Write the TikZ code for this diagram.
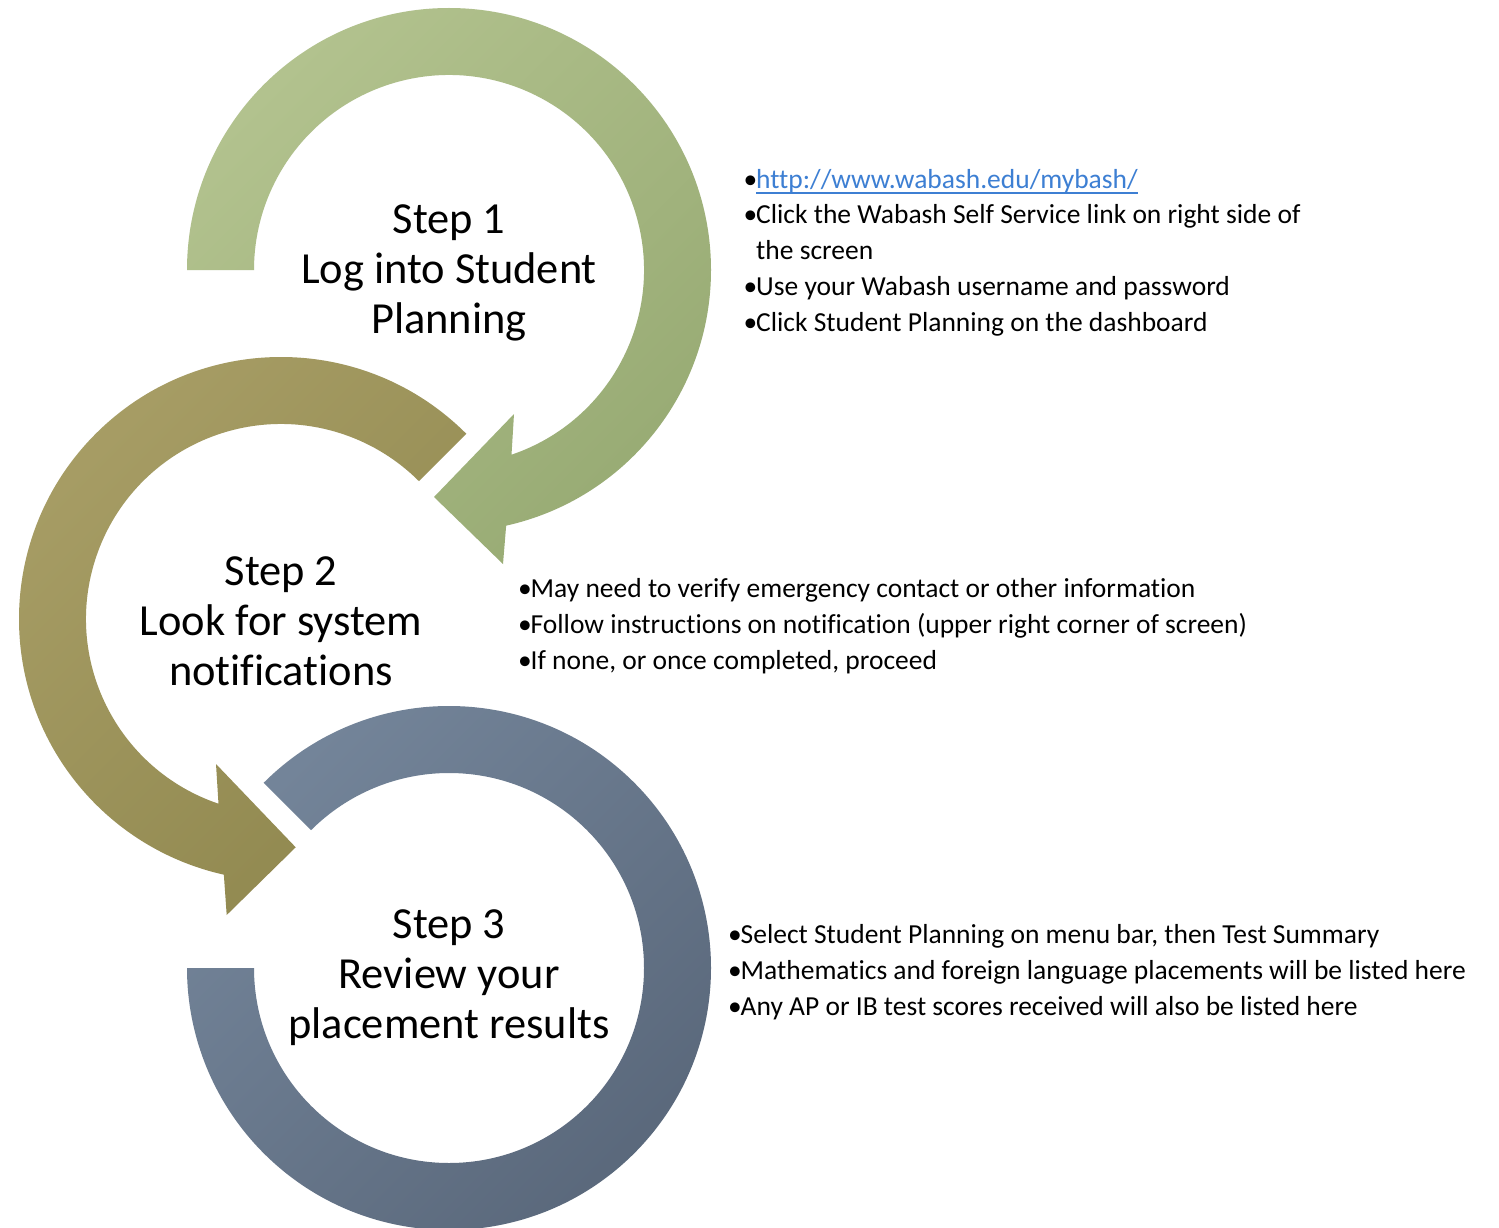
\documentclass[tikz,border=0pt]{standalone}
\usepackage{fontspec}
\setmainfont{Carlito}[Ligatures=NoCommon]
\definecolor{greenlight}{HTML}{B2C28E}
\definecolor{greendark}{HTML}{98AB74}
\definecolor{olivelight}{HTML}{A89E66}
\definecolor{olivedark}{HTML}{90884F}
\definecolor{slatelight}{HTML}{74859A}
\definecolor{slatedark}{HTML}{59677A}
\definecolor{linkblue}{HTML}{3D7FD3}
% bullet of fixed width, and the matching hanging indent
\newcommand\bul{\makebox[12.5pt][l]{•}}
\newcommand\hang{\hspace*{12.5pt}}
% underlined link text
\newcommand\weblink[1]{{\color{linkblue}\setbox0\hbox{#1}\rlap{\rule[-5.5pt]{\wd0}{1.2pt}}\box0}}
\begin{document}
\begin{tikzpicture}[x=1pt,y=-1pt,
  % multi-line nodes: the base anchor sits on the last line
  steptext/.style={align=center,inner sep=0pt,anchor=base,
    font=\fontsize{44.4}{50}\selectfont},
  notes/.style={align=left,inner sep=0pt,anchor=base west,
    font=\fontsize{27.5}{35.8}\selectfont},
  ringone/.style={left color=greenlight,right color=greendark,shading angle=45},
  ringtwo/.style={left color=olivelight,right color=olivedark,shading angle=45},
  ringthree/.style={left color=slatelight,right color=slatedark,shading angle=45}]

\fill[white] (0,0) rectangle (1499,1228);
\useasboundingbox (0,0) rectangle (1499,1228);

\coordinate (c1) at (449,270);
\coordinate (c2) at (281,619);
\coordinate (c3) at (449,968);

% ring 1: clockwise from the left, arrowhead at lower right
\shade[ringone] ([shift={(180:262)}]c1)
  arc[start angle=180,end angle=437.4,radius=262]
  -- (503,564) -- (434,497) -- (514,414)
  -- ([shift={(431.3:195)}]c1)
  arc[start angle=431.3,end angle=180,radius=195] -- cycle;

% ring 2: counter-clockwise from upper right, arrowhead at lower right
\shade[ringtwo] ([shift={(-45:262)}]c2)
  arc[start angle=-45,end angle=-257.4,radius=262]
  -- (226.7,915) -- (295.7,847.3) -- (216,764)
  -- ([shift={(-251.3:195)}]c2)
  arc[start angle=-251.3,end angle=-45,radius=195] -- cycle;

% ring 3: clockwise from upper left, ending flat at the left
\shade[ringthree] ([shift={(-135:262)}]c3)
  arc[start angle=-135,end angle=180,radius=262]
  -- ([shift={(180:195)}]c3)
  arc[start angle=180,end angle=-135,radius=195] -- cycle;

% step titles
\node[steptext] (step1) at (449,333) {Step 1\\Log into Student\\Planning};
\node[steptext] (step2) at (281,685) {Step 2\\Look for system\\notifications};
\node[steptext] (step3) at (449,1038) {Step 3\\Review your\\placement results};

% notes beside each step
\node[notes] (notes1) at (743.5,331.2) {%
  \bul\weblink{http://www.wabash.edu/mybash/}\\
  \bul Click the Wabash Self Service link on right side of\\
  \hang the screen\\
  \bul Use your Wabash username and password\\
  \bul Click Student Planning on the dashboard};

\node[notes] (notes2) at (518,669.1) {%
  \bul May need to verify emergency contact or other information\\
  \bul Follow instructions on notification (upper right corner of screen)\\
  \bul If none, or once completed, proceed};

\node[notes] (notes3) at (728,1015.1) {%
  \bul Select Student Planning on menu bar, then Test Summary\\
  \bul Mathematics and foreign language placements will be listed here\\
  \bul Any AP or IB test scores received will also be listed here};
\end{tikzpicture}
\end{document}
